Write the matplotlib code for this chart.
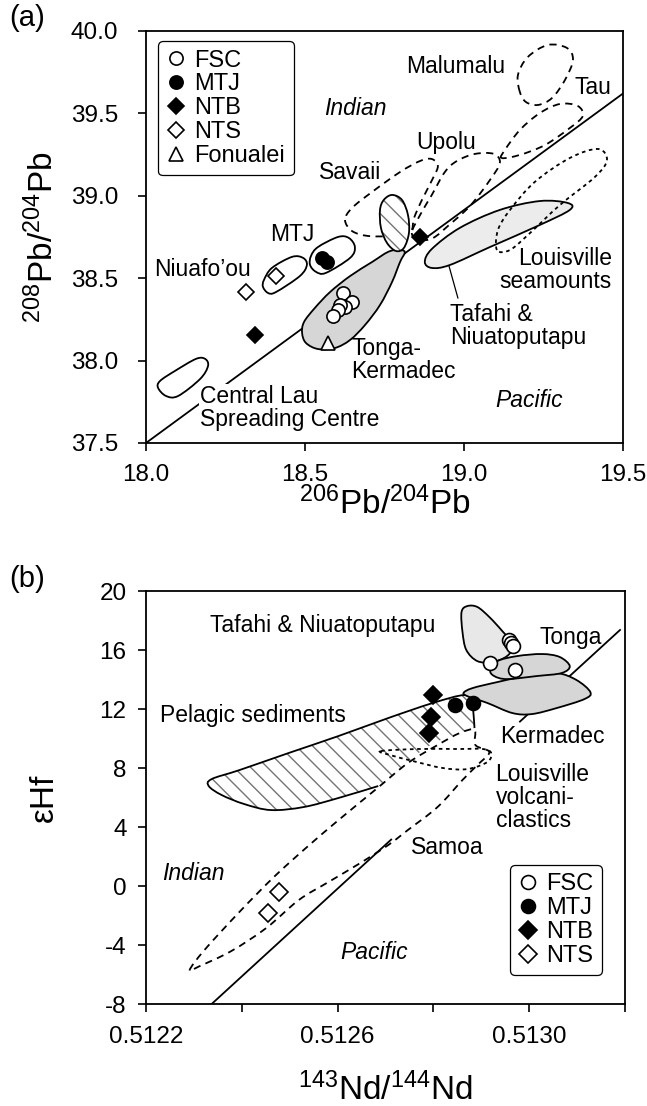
import numpy as np
import matplotlib
matplotlib.use("Agg")
import matplotlib.pyplot as plt
from matplotlib.path import Path
from matplotlib.patches import PathPatch

plt.rcParams['font.family'] = ['Liberation Sans', 'DejaVu Sans']
plt.rcParams['mathtext.fontset'] = 'custom'
plt.rcParams['mathtext.rm'] = 'Liberation Sans'
plt.rcParams['mathtext.it'] = 'Liberation Sans:italic'
plt.rcParams['axes.unicode_minus'] = False
plt.rcParams['hatch.linewidth'] = 1.0

# ---------------- panel (a): 206Pb/204Pb vs 208Pb/204Pb ----------------
central_lau_x = [18.038, 18.063, 18.101, 18.170, 18.195, 18.186, 18.157, 18.091, 18.044]
central_lau_y = [37.834, 37.785, 37.785, 37.888, 37.967, 38.010, 38.010, 37.937, 37.876]
niuafoou_x = [18.368, 18.384, 18.409, 18.484, 18.506, 18.494, 18.459, 18.396, 18.371]
niuafoou_y = [38.447, 38.410, 38.416, 38.513, 38.580, 38.623, 38.629, 38.562, 38.489]
mtj_field_x = [18.516, 18.535, 18.566, 18.642, 18.657, 18.638, 18.604, 18.541, 18.519]
mtj_field_y = [38.580, 38.538, 38.532, 38.623, 38.689, 38.744, 38.750, 38.689, 38.635]
tonga_kerm_x = [18.491, 18.497, 18.531, 18.579, 18.642, 18.711, 18.761, 18.792, 18.814,
                18.799, 18.774, 18.736, 18.689, 18.642, 18.594, 18.541, 18.503]
tonga_kerm_y = [38.167, 38.234, 38.319, 38.416, 38.513, 38.598, 38.659, 38.671, 38.659,
                38.598, 38.477, 38.337, 38.216, 38.125, 38.076, 38.070, 38.107]
savaii_hatch_x = [18.774, 18.748, 18.736, 18.739, 18.758, 18.786, 18.811, 18.827, 18.824, 18.805]
savaii_hatch_y = [39.005, 38.975, 38.914, 38.805, 38.714, 38.665, 38.683, 38.774, 38.883, 38.975]
tafahi_a_x = [18.877, 18.899, 18.987, 19.113, 19.239, 19.327, 19.333, 19.239, 19.082, 18.956, 18.899]
tafahi_a_y = [38.598, 38.677, 38.805, 38.914, 38.968, 38.956, 38.914, 38.823, 38.689, 38.580, 38.562]
louisville_a_x = [19.104, 19.107, 19.145, 19.223, 19.333, 19.421, 19.450, 19.412, 19.302, 19.208, 19.145]
louisville_a_y = [38.671, 38.792, 38.914, 39.084, 39.229, 39.284, 39.217, 39.114, 38.944, 38.774, 38.671]
savaii_x = [18.626, 18.648, 18.698, 18.761, 18.830, 18.843, 18.868, 18.903, 18.918, 18.899,
            18.862, 18.799, 18.711, 18.648]
savaii_y = [38.853, 38.786, 38.756, 38.756, 38.780, 38.865, 38.975, 39.108, 39.181, 39.223,
            39.211, 39.144, 39.023, 38.926]
upolu_x = [18.836, 18.862, 18.903, 18.950, 19.019, 19.082, 19.113, 19.094, 19.035, 18.978,
           18.940, 18.899, 18.862]
upolu_y = [38.774, 38.732, 38.744, 38.817, 38.938, 39.096, 39.199, 39.254, 39.254, 39.211,
           39.144, 39.005, 38.883]
tau_x = [19.119, 19.129, 19.176, 19.239, 19.302, 19.358, 19.374, 19.333, 19.255, 19.176]
tau_y = [39.229, 39.278, 39.399, 39.502, 39.557, 39.545, 39.484, 39.411, 39.308, 39.248]
malumalu_x = [19.176, 19.170, 19.201, 19.264, 19.324, 19.343, 19.318, 19.277, 19.233, 19.195]
malumalu_y = [39.630, 39.733, 39.842, 39.915, 39.897, 39.824, 39.703, 39.593, 39.551, 39.569]
ref_a_x = [18.0, 19.5]
ref_a_y = [37.5, 39.62]
leader_a_x = [18.953, 18.981]
leader_a_y = [38.574, 38.380]

fsc_a_x = [18.619, 18.648, 18.626, 18.610, 18.604, 18.588]
fsc_a_y = [38.410, 38.356, 38.325, 38.337, 38.307, 38.271]
mtj_a_x = [18.553, 18.569]
mtj_a_y = [38.623, 38.598]
ntb_a_x = [18.343, 18.862]
ntb_a_y = [38.155, 38.750]
nts_a_x = [18.314, 18.409]
nts_a_y = [38.416, 38.513]
fon_a_x = [18.572]
fon_a_y = [38.107]

# ---------------- panel (b): 143Nd/144Nd vs eHf ----------------
tafahi_b_x = [0.512859, 0.512871, 0.512892, 0.512917, 0.512944, 0.512967, 0.512954, 0.512923,
              0.512892, 0.512869, 0.512861]
tafahi_b_y = [18.58, 18.98, 18.92, 18.24, 17.29, 16.34, 15.59, 15.19, 15.25, 16.00, 17.22]
tonga_b_x = [0.512919, 0.512934, 0.512975, 0.513027, 0.513064, 0.513085, 0.513068, 0.513017,
             0.512954, 0.512927]
tonga_b_y = [14.64, 15.25, 15.59, 15.73, 15.53, 14.91, 14.44, 14.24, 14.03, 14.24]
kermadec_b_x = [0.512863, 0.512882, 0.512934, 0.513002, 0.513058, 0.513099, 0.513128, 0.513116,
                0.513058, 0.513006, 0.512965, 0.512913, 0.512876]
kermadec_b_y = [13.08, 13.42, 13.83, 14.30, 14.44, 13.97, 13.15, 12.68, 12.07, 11.66, 11.73,
                12.41, 12.81]
pelagic_x = [0.512685, 0.512602, 0.512530, 0.512461, 0.512405, 0.512358, 0.512331, 0.512337,
             0.512395, 0.512498, 0.512602, 0.512706, 0.512799, 0.512865, 0.512880, 0.512884,
             0.512886]
pelagic_y = [6.78, 5.97, 5.36, 5.15, 5.56, 6.17, 6.78, 7.25, 7.86, 9.02, 10.17, 11.39, 12.41,
             12.95, 12.47, 11.66, 10.71]
pelagic_close_x = [0.512861, 0.512820, 0.512778, 0.512726]
pelagic_close_y = [10.44, 9.97, 9.22, 7.86]
louisville_b_x = [0.512691, 0.512768, 0.512851, 0.512903, 0.512921, 0.512913, 0.512871, 0.512820,
                  0.512758, 0.512710]
louisville_b_y = [9.15, 9.29, 9.29, 9.29, 9.02, 8.41, 7.93, 8.00, 8.47, 8.88]
samoa_x = [0.512291, 0.512322, 0.512395, 0.512467, 0.512534, 0.512602, 0.512681, 0.512747,
           0.512809, 0.512855, 0.512886, 0.512888, 0.512917, 0.512892, 0.512861, 0.512809,
           0.512747, 0.512706, 0.512644, 0.512581, 0.512519, 0.512451, 0.512378, 0.512312]
samoa_y = [-5.70, -4.34, -1.76, 0.61, 2.58, 4.47, 6.58, 8.34, 9.56, 10.37, 10.58, 9.56, 9.08,
           8.20, 7.19, 5.36, 3.80, 2.78, 1.49, 0.27, -0.95, -2.85, -4.41, -5.43]
# mantle domain boundary, shown in two visible pieces
ref_b_lo_x = [0.512337, 0.512712]
ref_b_lo_y = [-8, 3.15]
ref_b_hi_x = [0.512981, 0.51319]
ref_b_hi_y = [11.15, 17.36]

fsc_b_x = [0.512959, 0.512963, 0.512967, 0.512919, 0.512971]
fsc_b_y = [16.68, 16.47, 16.27, 15.12, 14.64]
mtj_b_x = [0.512845, 0.512882]
mtj_b_y = [12.27, 12.41]
ntb_b_x = [0.512799, 0.512795, 0.512790]
ntb_b_y = [12.95, 11.46, 10.37]
nts_b_x = [0.512478, 0.512455]
nts_b_y = [-0.41, -1.83]


def smooth_path(xs, ys, closed=True):
    # smooth curve through the traced outline points (Catmull-Rom as bezier)
    p = np.column_stack([xs, ys]).astype(float)
    n = len(p)
    if closed:
        get = lambda i: p[i % n]
        segs = n
    else:
        get = lambda i: p[min(max(i, 0), n - 1)]
        segs = n - 1
    verts = [p[0]]
    codes = [Path.MOVETO]
    for i in range(segs):
        p0, p1, p2, p3 = get(i - 1), get(i), get(i + 1), get(i + 2)
        verts += [p1 + (p2 - p0) / 6, p2 - (p3 - p1) / 6, p2]
        codes += [Path.CURVE4] * 3
    if closed:
        verts.append(p[0])
        codes.append(Path.CLOSEPOLY)
    return Path(verts, codes)


def field(ax, xs, ys, fc='none', ls='-', z=2, closed=True):
    ax.add_patch(PathPatch(smooth_path(xs, ys, closed), facecolor=fc, edgecolor='k',
                           lw=1.3, ls=ls, zorder=z, fill=(fc != 'none')))


def hatched(ax, xs, ys, z=3):
    ax.add_patch(PathPatch(smooth_path(xs, ys), facecolor='white', edgecolor='0.45',
                           hatch='\\\\', lw=0, zorder=z))


dash = (0, (4, 3))
dot = (0, (2, 2))
TXT = 16.5
open_kw = dict(ls='none', mfc='white', mec='k', mew=1.2, zorder=6)
fill_kw = dict(ls='none', mfc='k', mec='k', mew=1.2, zorder=6)

fig = plt.figure(figsize=(6.47, 11.06), dpi=100)

# ---------------- (a) ----------------
ax = fig.add_axes([0.2257, 0.5995, 0.737, 0.3725])
ax.set_xlim(18.0, 19.5)
ax.set_ylim(37.5, 40.0)

ax.plot(ref_a_x, ref_a_y, color='k', lw=1.3, zorder=1.5)
for xs, ys in [(savaii_x, savaii_y), (upolu_x, upolu_y), (tau_x, tau_y),
               (malumalu_x, malumalu_y)]:
    field(ax, xs, ys, ls=dash, z=1.8)
field(ax, central_lau_x, central_lau_y, fc='white')
field(ax, niuafoou_x, niuafoou_y, fc='white')
field(ax, mtj_field_x, mtj_field_y, fc='white')
field(ax, tonga_kerm_x, tonga_kerm_y, fc='#d6d6d6')
field(ax, tafahi_a_x, tafahi_a_y, fc='#ececec')
field(ax, louisville_a_x, louisville_a_y, ls=dot, z=2.5)
hatched(ax, savaii_hatch_x, savaii_hatch_y)
field(ax, savaii_hatch_x, savaii_hatch_y, z=3.5)
ax.plot(leader_a_x, leader_a_y, color='k', lw=0.9, zorder=2)

ax.plot(fsc_a_x, fsc_a_y, 'o', ms=9.5, label='FSC', **open_kw)
ax.plot(mtj_a_x, mtj_a_y, 'o', ms=9.5, label='MTJ', **fill_kw)
ax.plot(ntb_a_x, ntb_a_y, 'D', ms=8, label='NTB', **fill_kw)
ax.plot(nts_a_x, nts_a_y, 'D', ms=8, label='NTS', **open_kw)
ax.plot(fon_a_x, fon_a_y, '^', ms=10, label='Fonualei', **open_kw)

ax.text(18.657, 39.527, 'Indian', fontsize=TXT, style='italic', ha='center', va='center')
ax.text(19.204, 37.755, 'Pacific', fontsize=TXT, style='italic', ha='center', va='center')
ax.text(18.975, 39.782, 'Malumalu', fontsize=TXT, ha='center', va='center')
ax.text(19.406, 39.654, 'Tau', fontsize=TXT, ha='center', va='center')
ax.text(18.943, 39.326, 'Upolu', fontsize=TXT, ha='center', va='center')
ax.text(18.642, 39.144, 'Savaii', fontsize=TXT, ha='center', va='center')
ax.text(18.459, 38.762, 'MTJ', fontsize=TXT, ha='center', va='center')
ax.text(18.179, 38.550, 'Niuafo\u2019ou', fontsize=TXT, ha='center', va='center')
ax.text(19.465, 38.550, 'Louisville\nseamounts', fontsize=TXT, ha='right', va='center',
        multialignment='right', linespacing=1.0)
ax.text(18.956, 38.210, 'Tafahi &\nNiuatoputapu', fontsize=TXT, ha='left', va='center',
        linespacing=1.0)
ax.text(18.645, 38.004, 'Tonga-\nKermadec', fontsize=TXT, ha='left', va='center',
        linespacing=1.0)
ax.text(18.170, 37.712, 'Central Lau\nSpreading Centre', fontsize=TXT, ha='left', va='center',
        linespacing=1.0, bbox=dict(fc='white', ec='none', pad=1), zorder=1.7)

ax.set_xticks([18.0, 18.5, 19.0, 19.5])
ax.set_xticklabels(['18.0', '18.5', '19.0', '19.5'])
ax.set_yticks([37.5, 38.0, 38.5, 39.0, 39.5, 40.0])
ax.set_yticklabels(['37.5', '38.0', '38.5', '39.0', '39.5', '40.0'])
ax.tick_params(axis='both', direction='out', length=6, width=1.2, labelsize=17.5)
ax.tick_params(axis='x', pad=9)
ax.tick_params(axis='y', pad=14)
for s in ax.spines.values():
    s.set_linewidth(1.3)
ax.set_xlabel(r'$^{206}$Pb/$^{204}$Pb', fontsize=24)
ax.xaxis.set_label_coords(0.5, -0.105)
ax.xaxis.label.set_va('top')
ax.set_ylabel(r'$^{208}$Pb/$^{204}$Pb', fontsize=24)
ax.yaxis.set_label_coords(-0.18, 0.5)
leg = ax.legend(loc='upper left', bbox_to_anchor=(0.025, 0.975), fontsize=17, frameon=True,
                fancybox=True, framealpha=1, edgecolor='k', handlelength=0.8,
                handletextpad=0.4, labelspacing=0.08, borderpad=0.35, borderaxespad=0)
leg.get_frame().set_linewidth(0.9)
leg.set_zorder(10)

# ---------------- (b) ----------------
bx = fig.add_axes([0.2257, 0.0922, 0.740, 0.3734])
bx.set_xlim(0.5122, 0.51319)
bx.set_ylim(-8, 20)

bx.plot(ref_b_lo_x, ref_b_lo_y, color='k', lw=1.3, zorder=1.5)
bx.plot(ref_b_hi_x, ref_b_hi_y, color='k', lw=1.3, zorder=1.5)
hatched(bx, pelagic_x + pelagic_close_x, pelagic_y + pelagic_close_y, z=1.6)
field(bx, samoa_x, samoa_y, ls=dash, z=1.8)
field(bx, pelagic_x, pelagic_y, closed=False, z=2)
field(bx, louisville_b_x, louisville_b_y, ls=dot, z=1.9)
field(bx, kermadec_b_x, kermadec_b_y, fc='#d6d6d6', z=2.2)
field(bx, tonga_b_x, tonga_b_y, fc='#d6d6d6', z=2.3)
field(bx, tafahi_b_x, tafahi_b_y, fc='#e8e8e8', z=2.1)

bx.plot(fsc_b_x, fsc_b_y, 'o', ms=10, label='FSC', **open_kw)
bx.plot(mtj_b_x, mtj_b_y, 'o', ms=10, label='MTJ', **fill_kw)
bx.plot(ntb_b_x, ntb_b_y, 'D', ms=9, label='NTB', **fill_kw)
bx.plot(nts_b_x, nts_b_y, 'D', ms=9, label='NTS', **open_kw)

bx.text(0.512333, 17.69, 'Tafahi & Niuatoputapu', fontsize=TXT, ha='left', va='center')
bx.text(0.513021, 16.88, 'Tonga', fontsize=TXT, ha='left', va='center')
bx.text(0.512229, 11.59, 'Pelagic sediments', fontsize=TXT, ha='left', va='center')
bx.text(0.512940, 10.17, 'Kermadec', fontsize=TXT, ha='left', va='center')
bx.text(0.512930, 6.03, 'Louisville\nvolcani-\nclastics', fontsize=TXT, ha='left',
        va='center', linespacing=1.0)
bx.text(0.512753, 2.64, 'Samoa', fontsize=TXT, ha='left', va='center')
bx.text(0.512233, 0.88, 'Indian', fontsize=TXT, style='italic', ha='left', va='center')
bx.text(0.512677, -4.54, 'Pacific', fontsize=TXT, style='italic', ha='center', va='center')

bx.set_xticks([0.5122, 0.5124, 0.5126, 0.5128, 0.5130, 0.5132])
bx.set_xticklabels(['0.5122', '', '0.5126', '', '0.5130', ''])
bx.set_yticks([-8, -4, 0, 4, 8, 12, 16, 20])
bx.set_yticklabels(['-8', '-4', '0', '4', '8', '12', '16', '20'])
bx.tick_params(axis='both', direction='out', length=6, width=1.2, labelsize=17.5)
bx.tick_params(axis='x', pad=10)
bx.tick_params(axis='y', pad=8)
for s in bx.spines.values():
    s.set_linewidth(1.3)
bx.set_xlabel(r'$^{143}$Nd/$^{144}$Nd', fontsize=24)
bx.xaxis.set_label_coords(0.5, -0.165)
bx.xaxis.label.set_va('top')
bx.set_ylabel('\u03b5Hf', fontsize=24)
bx.yaxis.set_label_coords(-0.18, 0.5)
leg2 = bx.legend(loc='lower right', bbox_to_anchor=(0.952, 0.07), fontsize=17, frameon=True,
                 fancybox=True, framealpha=1, edgecolor='k', handlelength=0.8,
                 handletextpad=0.4, labelspacing=0.08, borderpad=0.35, borderaxespad=0)
leg2.get_frame().set_linewidth(0.9)
leg2.set_zorder(10)

fig.text(0.015, 0.996, '(a)', fontsize=21, va='top', ha='left')
fig.text(0.015, 0.489, '(b)', fontsize=21, va='top', ha='left')

fig.savefig('out.png', dpi=100)
